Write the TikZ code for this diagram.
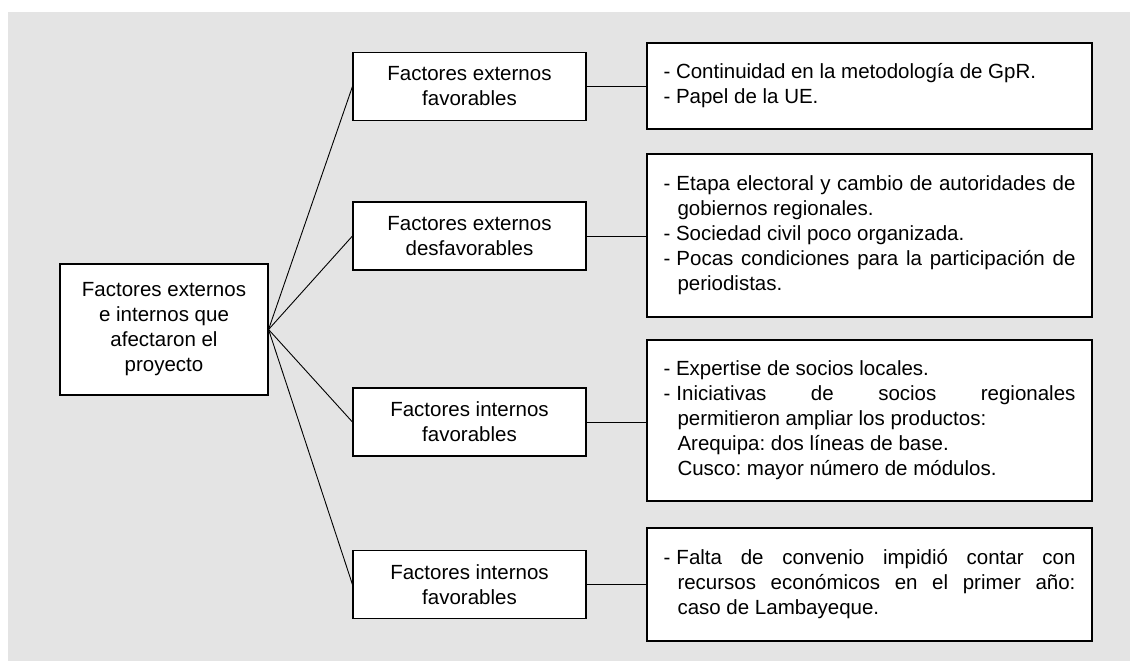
\documentclass[tikz,border=0pt]{standalone}
\usepackage{fontspec}
\setmainfont{Liberation Sans}
\frenchspacing
\newlength\rw \setlength\rw{412pt}
\newlength\hg \setlength\hg{14pt}
\newcommand\jd[1]{\makebox[\rw][s]{-\kern0.3em #1}}
\newcommand\jh[1]{\hspace*{\hg}\makebox[\dimexpr\rw-\hg\relax][s]{#1}}
\newcommand\ih[1]{\hspace*{\hg}#1}
\newcommand\fs{\fontsize{20.5}{25}\selectfont}
\definecolor{bgc}{RGB}{228,228,228}
\begin{document}
\begin{tikzpicture}[x=1pt,y=-1pt,
  box/.style={draw=black, line width=1.1pt, fill=white, inner sep=0pt, font=\fs},
  rootbox/.style={box, minimum width=208pt, minimum height=131pt, align=flush center},
  midbox/.style={box, minimum width=233pt, minimum height=68pt, align=flush center},
  rightbox/.style={box, minimum width=445pt, text width=412pt, align=flush left},
  conn/.style={draw=black, line width=0.9pt}
]
\useasboundingbox (0,0) rectangle (1130,661);
\fill[bgc] (8,12) rectangle (1130,661);

\node[rootbox] (root) at (164,329.5) {Factores externos\\e internos que\\afectaron el\\proyecto};

\node[midbox] (m1) at (469.5,86.5) {Factores externos\\favorables};
\node[midbox] (m2) at (469.5,236) {Factores externos\\desfavorables};
\node[midbox] (m3) at (469.5,422) {Factores internos\\favorables};
\node[midbox] (m4) at (469.5,584.5) {Factores internos\\favorables};

\node[rightbox, minimum height=86pt] (r1) at (869.5,86) {- Continuidad en la metodología de GpR.\\- Papel de la UE.};
\node[rightbox, minimum height=163pt] (r2) at (869.5,235.5) {\jd{Etapa electoral y cambio de autoridades de}\\\ih{gobiernos regionales.}\\- Sociedad civil poco organizada.\\\jd{Pocas condiciones para la participación de}\\\ih{periodistas.}};
\node[rightbox, minimum height=161pt] (r3) at (869.5,420.5) {- Expertise de socios locales.\\\jd{Iniciativas de socios regionales}\\\ih{permitieron ampliar los productos:}\\\ih{Arequipa: dos líneas de base.}\\\ih{Cusco: mayor número de módulos.}};
\node[rightbox, minimum height=113pt] (r4) at (869.5,584.5) {\jd{Falta de convenio impidió contar con}\\\jh{recursos económicos en el primer año:}\\\ih{caso de Lambayeque.}};

\foreach \m in {m1,m2,m3,m4} \draw[conn] (root.east) -- (\m.west);
\foreach \m/\r in {m1/r1,m2/r2,m3/r3,m4/r4} \draw[conn] (\m.east) -- (\m.east -| \r.west);
\end{tikzpicture}
\end{document}
